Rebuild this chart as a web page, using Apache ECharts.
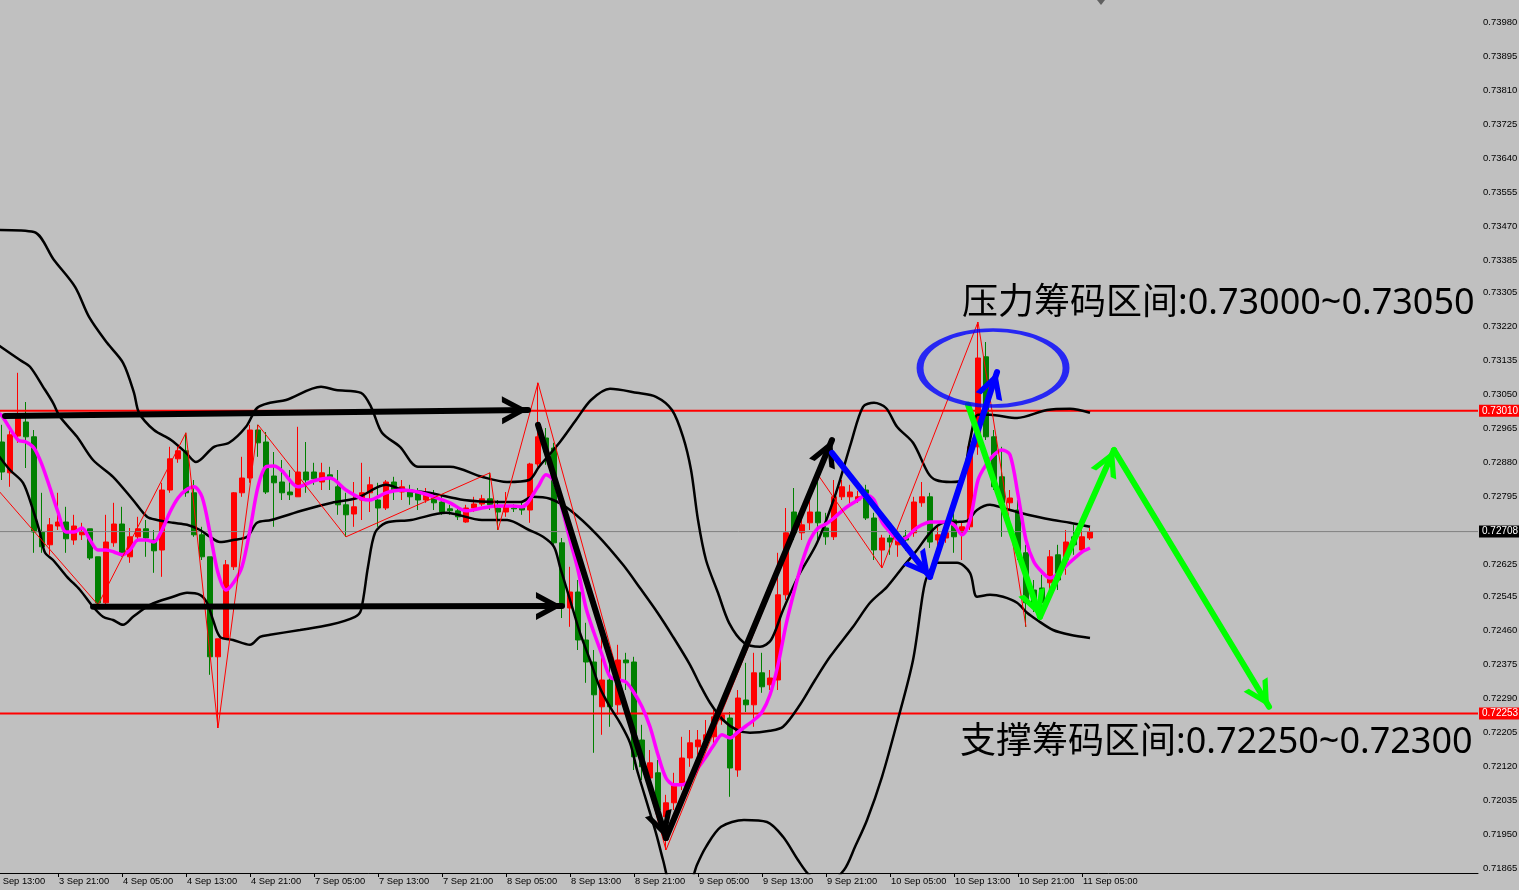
<!DOCTYPE html>
<html><head><meta charset="utf-8">
<script src="https://cdn.jsdelivr.net/npm/echarts@6/dist/echarts.min.js"></script>
<style>html,body{margin:0;padding:0;background:#c0c0c0;}#c{width:1519px;height:890px;}</style>
</head><body><div id="c"></div>
<script>
// ---- categories (hourly bars, H1) ----
const daySpans = [['3 Sep',13,23],['4 Sep',0,23],['7 Sep',0,23],['8 Sep',0,23],['9 Sep',0,23],['10 Sep',0,23],['11 Sep',0,6]];
const futureSlots = 48;

// ---- y tick labels ----
const yTickLabels = [0.73980,0.73895,0.73810,0.73725,0.73640,0.73555,0.73470,0.73385,0.73305,0.73220,0.73135,0.73050,0.72965,0.72880,0.72795,0.72625,0.72545,0.72460,0.72375,0.72290,0.72205,0.72120,0.72035,0.71950,0.71865];

// ---- OHLC (3 Sep 14:00 .. 11 Sep 06:00) ----
const openP = [0.72932,0.72855,0.72947,0.72982,0.72945,0.72707,0.72675,0.72722,0.72732,0.72687,
0.72700,0.72715,0.72645,0.72530,0.72680,0.72727,0.72645,0.72695,0.72715,0.72687,
0.72662,0.72812,0.72890,0.72910,0.72805,0.72700,0.72645,0.72395,0.72442,0.72620,
0.72805,0.72842,0.72962,0.72932,0.72847,0.72832,0.72807,0.72795,0.72857,0.72857,
0.72832,0.72850,0.72820,0.72775,0.72752,0.72787,0.72805,0.72787,0.72767,0.72832,
0.72807,0.72812,0.72805,0.72787,0.72792,0.72782,0.72765,0.72760,0.72732,0.72767,
0.72777,0.72790,0.72767,0.72757,0.72767,0.72767,0.72762,0.72877,0.72942,0.72917,
0.72680,0.72517,0.72557,0.72437,0.72382,0.72270,0.72337,0.72275,0.72387,0.72382,
0.72187,0.72092,0.72105,0.71995,0.72030,0.72075,0.72142,0.72170,0.72187,0.72195,
0.72237,0.72242,0.72112,0.72287,0.72275,0.72355,0.72325,0.72337,0.72550,0.72757,
0.72705,0.72730,0.72757,0.72717,0.72695,0.72795,0.72795,0.72787,0.72812,0.72742,
0.72662,0.72692,0.72675,0.72697,0.72705,0.72780,0.72795,0.72687,0.72692,0.72737,
0.72705,0.72720,0.72920,0.73145,0.72945,0.72845,0.72780,0.72762,0.72655,0.72562,
0.72567,0.72580,0.72650,0.72637,0.72695,0.72662,0.72692];
const closeP = [0.72857,0.72950,0.73000,0.72945,0.72707,0.72670,0.72725,0.72732,0.72690,0.72722,
0.72707,0.72642,0.72530,0.72682,0.72727,0.72655,0.72695,0.72715,0.72692,0.72660,
0.72812,0.72890,0.72910,0.72805,0.72700,0.72645,0.72395,0.72440,0.72625,0.72805,
0.72842,0.72962,0.72930,0.72807,0.72830,0.72805,0.72800,0.72857,0.72837,0.72840,
0.72855,0.72845,0.72775,0.72750,0.72770,0.72805,0.72825,0.72767,0.72832,0.72812,
0.72820,0.72795,0.72787,0.72805,0.72780,0.72757,0.72760,0.72745,0.72767,0.72777,
0.72790,0.72775,0.72757,0.72770,0.72765,0.72762,0.72877,0.72945,0.72907,0.72680,
0.72520,0.72557,0.72437,0.72382,0.72300,0.72337,0.72270,0.72387,0.72380,0.72145,
0.72120,0.72130,0.72012,0.72030,0.72075,0.72142,0.72180,0.72187,0.72200,0.72245,
0.72250,0.72117,0.72292,0.72275,0.72355,0.72320,0.72342,0.72550,0.72705,0.72705,
0.72725,0.72757,0.72730,0.72695,0.72795,0.72820,0.72807,0.72795,0.72742,0.72662,
0.72692,0.72682,0.72687,0.72687,0.72782,0.72795,0.72682,0.72700,0.72705,0.72695,
0.72720,0.72920,0.73142,0.72945,0.72820,0.72780,0.72792,0.72655,0.72530,0.72530,
0.72530,0.72645,0.72587,0.72682,0.72675,0.72695,0.72708];
const lowP = [0.72837,0.72820,0.72930,0.72867,0.72655,0.72655,0.72650,0.72712,0.72655,0.72675,
0.72687,0.72637,0.72525,0.72525,0.72670,0.72645,0.72630,0.72682,0.72645,0.72605,
0.72595,0.72805,0.72880,0.72795,0.72695,0.72637,0.72350,0.72217,0.72437,0.72612,
0.72795,0.72830,0.72895,0.72802,0.72720,0.72787,0.72787,0.72795,0.72805,0.72825,
0.72812,0.72812,0.72750,0.72695,0.72720,0.72737,0.72757,0.72720,0.72762,0.72787,
0.72787,0.72775,0.72762,0.72780,0.72762,0.72750,0.72750,0.72737,0.72730,0.72757,
0.72772,0.72762,0.72712,0.72745,0.72757,0.72750,0.72730,0.72870,0.72875,0.72667,
0.72492,0.72470,0.72412,0.72330,0.72155,0.72200,0.72220,0.72250,0.72312,0.72112,
0.72087,0.72062,0.71987,0.71912,0.72012,0.72062,0.72120,0.72150,0.72162,0.72175,
0.72225,0.72045,0.72095,0.72257,0.72220,0.72305,0.72312,0.72312,0.72537,0.72687,
0.72687,0.72712,0.72682,0.72675,0.72687,0.72787,0.72775,0.72780,0.72737,0.72637,
0.72617,0.72650,0.72645,0.72660,0.72695,0.72770,0.72667,0.72660,0.72680,0.72655,
0.72637,0.72712,0.72900,0.72937,0.72812,0.72695,0.72762,0.72637,0.72470,0.72507,
0.72512,0.72562,0.72562,0.72600,0.72650,0.72657,0.72687];
const highP = [0.72975,0.72962,0.73105,0.73032,0.72962,0.72805,0.72742,0.72805,0.72770,0.72750,
0.72730,0.72715,0.72645,0.72750,0.72780,0.72770,0.72717,0.72745,0.72737,0.72712,
0.72830,0.72920,0.72920,0.72955,0.72837,0.72720,0.72645,0.72440,0.72637,0.72807,
0.72895,0.72975,0.72975,0.72957,0.72907,0.72887,0.72862,0.72970,0.72932,0.72880,
0.72880,0.72870,0.72862,0.72805,0.72832,0.72880,0.72845,0.72830,0.72837,0.72845,
0.72837,0.72825,0.72817,0.72817,0.72812,0.72800,0.72775,0.72770,0.72775,0.72795,
0.72800,0.72855,0.72787,0.72807,0.72777,0.72780,0.72880,0.73080,0.72967,0.72930,
0.72692,0.72620,0.72587,0.72480,0.72412,0.72462,0.72412,0.72425,0.72405,0.72395,
0.72225,0.72162,0.72137,0.72050,0.72105,0.72195,0.72212,0.72212,0.72237,0.72262,
0.72275,0.72257,0.72312,0.72380,0.72405,0.72405,0.72362,0.72655,0.72767,0.72817,
0.72757,0.72787,0.72850,0.72755,0.72837,0.72837,0.72825,0.72810,0.72825,0.72755,
0.72700,0.72700,0.72710,0.72712,0.72795,0.72832,0.72805,0.72720,0.72720,0.72755,
0.72730,0.72937,0.73232,0.73182,0.72962,0.72920,0.72812,0.72787,0.72675,0.72587,
0.72600,0.72662,0.72675,0.72712,0.72725,0.72717,0.72717];

// ---- Bollinger band lines, read as [bar position, price] ----
const bbUpper = [[0.5,0.73462],[5,0.73457],[7.5,0.73387],[10.13,0.73320],[11.88,0.73245],[14.13,0.73180],[16.13,0.73130],[17.5,0.73055],[18.13,0.73005],[20,0.72962],[22.13,0.72937],[24,0.72905],[25.25,0.72882],[27.5,0.72920],[29.38,0.72930],[31.5,0.72970],[32.88,0.73017],[34.5,0.73030],[36.5,0.73037],[40.88,0.73070],[42.75,0.73062],[45.88,0.73055],[47.13,0.73020],[48.5,0.72955],[50.75,0.72920],[53,0.72870],[57,0.72870],[61,0.72845],[64.13,0.72832],[66.88,0.72837],[68.13,0.72870],[70.75,0.72932],[72.75,0.72987],[74.63,0.73037],[77,0.73065],[80.38,0.73055],[82.75,0.73045],[84.75,0.73012],[86.13,0.72945],[87.13,0.72862],[88,0.72737],[89,0.72637],[90.5,0.72555],[91.88,0.72480],[93.75,0.72430],[95.75,0.72420],[97.13,0.72437],[98.63,0.72512],[100.5,0.72595],[102.88,0.72680],[105.25,0.72805],[107.13,0.72930],[108.63,0.73020],[110,0.73030],[111.5,0.73017],[112.88,0.72970],[114.88,0.72930],[116.75,0.72855],[117.75,0.72837],[119.63,0.72832],[121,0.72837],[122,0.72937],[123,0.73000],[124.5,0.73000],[127.88,0.72992],[131.63,0.73012],[134.5,0.73015],[137,0.73005]];
const bbMiddle = [[0.5,0.73175],[3.25,0.73137],[4.5,0.73120],[6.13,0.73070],[7.38,0.73030],[8.25,0.72995],[10.38,0.72945],[12.38,0.72887],[14.88,0.72845],[17.38,0.72787],[19.13,0.72745],[20.38,0.72737],[22.38,0.72730],[24.13,0.72725],[25.75,0.72712],[27,0.72695],[28.25,0.72682],[29.88,0.72687],[31.63,0.72695],[32.88,0.72730],[34.63,0.72737],[38.75,0.72762],[42.25,0.72780],[45.38,0.72792],[49,0.72825],[51.25,0.72812],[54.38,0.72805],[58.75,0.72787],[63.25,0.72782],[65.88,0.72782],[67.25,0.72795],[69.5,0.72790],[72,0.72762],[75.38,0.72700],[78.63,0.72625],[80.75,0.72567],[82.88,0.72507],[84.88,0.72445],[87,0.72375],[88.25,0.72325],[89.5,0.72280],[91.13,0.72237],[92.88,0.72212],[94.5,0.72205],[97,0.72210],[98.63,0.72220],[100.75,0.72275],[102.63,0.72337],[104.5,0.72395],[107.38,0.72470],[109.5,0.72530],[111.63,0.72570],[113.63,0.72620],[115.38,0.72662],[117,0.72705],[118.63,0.72730],[120.38,0.72732],[121.63,0.72735],[122.88,0.72762],[124.5,0.72775],[126.13,0.72767],[128.25,0.72755],[130.38,0.72745],[132.38,0.72737],[134.5,0.72730],[137,0.72720]];
const bbLower = [[0.5,0.72900],[2,0.72862],[3.63,0.72830],[4.88,0.72762],[5.75,0.72705],[6.38,0.72655],[7.38,0.72637],[9.13,0.72595],[10.75,0.72562],[12.38,0.72520],[13.63,0.72495],[14.88,0.72487],[16.13,0.72475],[17.38,0.72495],[19.5,0.72525],[22.38,0.72545],[24.13,0.72555],[25.75,0.72550],[26.63,0.72530],[27.38,0.72487],[28.25,0.72445],[29.88,0.72437],[32,0.72425],[33.25,0.72445],[34.5,0.72450],[38.25,0.72462],[42,0.72475],[45.13,0.72495],[45.88,0.72512],[46.75,0.72620],[47.63,0.72705],[49,0.72730],[52.13,0.72737],[56.5,0.72755],[61,0.72737],[64.13,0.72737],[66.88,0.72712],[68.63,0.72695],[70,0.72670],[70.75,0.72620],[71.63,0.72562],[72.38,0.72512],[73.25,0.72455],[74.5,0.72387],[75.75,0.72317],[77,0.72270],[78.25,0.72230],[79.5,0.72180],[80.38,0.72112],[81.13,0.72062],[82,0.72005],[82.88,0.71945],[83.63,0.71887],[84.75,0.71812],[86.38,0.71800],[87.88,0.71875],[89,0.71920],[90.88,0.71970],[93.75,0.71987],[96.63,0.71982],[98.63,0.71945],[100.5,0.71887],[101.88,0.71850],[103.88,0.71825],[106.25,0.71862],[107.63,0.71920],[109.13,0.71987],[111,0.72095],[112.88,0.72230],[114.88,0.72387],[116.13,0.72555],[116.63,0.72595],[117.88,0.72630],[120.38,0.72630],[122,0.72605],[122.88,0.72545],[124.5,0.72550],[126.13,0.72545],[127.88,0.72530],[129.13,0.72505],[130.38,0.72487],[132.38,0.72462],[134.5,0.72450],[137,0.72442]];

// ---- moving average (magenta) ----
const maLine = [[0.5,0.73005],[1,0.72997],[3,0.72937],[4,0.72932],[5,0.72917],[6,0.72875],[7,0.72817],[8,0.72757],[9,0.72707],[10,0.72707],[11,0.72717],[12,0.72687],[13,0.72662],[14,0.72662],[15,0.72657],[16,0.72650],[17,0.72662],[18,0.72687],[19,0.72687],[20,0.72682],[21,0.72712],[22,0.72757],[23,0.72792],[24,0.72812],[25,0.72820],[26,0.72795],[27,0.72705],[28,0.72605],[29,0.72562],[30,0.72582],[31,0.72620],[32,0.72712],[33,0.72820],[34,0.72870],[35,0.72872],[36,0.72860],[38,0.72820],[40,0.72835],[42,0.72842],[44,0.72812],[46,0.72790],[47,0.72787],[49,0.72805],[51,0.72812],[53,0.72807],[55,0.72795],[57,0.72780],[59,0.72760],[61,0.72767],[63,0.72772],[65,0.72772],[66,0.72770],[68,0.72820],[69,0.72850],[70,0.72835],[71,0.72767],[72,0.72687],[73,0.72612],[74,0.72517],[75,0.72455],[76,0.72400],[77,0.72345],[78,0.72337],[79,0.72332],[80,0.72305],[81,0.72270],[82,0.72220],[83,0.72150],[84,0.72092],[85,0.72075],[86,0.72075],[87,0.72087],[88,0.72117],[89,0.72145],[90,0.72175],[91,0.72200],[92,0.72192],[93,0.72207],[94,0.72222],[95,0.72237],[96,0.72257],[97,0.72300],[98,0.72375],[99,0.72475],[100,0.72557],[101,0.72630],[102,0.72687],[103,0.72717],[104,0.72727],[105,0.72742],[106,0.72760],[107,0.72775],[108,0.72787],[109,0.72800],[110,0.72787],[111,0.72732],[112,0.72707],[113,0.72687],[114,0.72692],[115,0.72712],[116,0.72725],[117,0.72732],[118,0.72732],[119,0.72732],[120,0.72725],[121,0.72700],[122,0.72737],[123,0.72837],[124,0.72875],[125,0.72900],[126,0.72912],[127,0.72900],[128,0.72800],[129,0.72687],[130,0.72632],[131,0.72607],[132,0.72592],[133,0.72602],[134,0.72622],[135,0.72640],[136,0.72657],[137,0.72667]];

// ---- zigzag swing points ----
const zigzag = [[0.5,0.72812],[13,0.72525],[24,0.72955],[28,0.72217],[33,0.72975],[44,0.72695],[62,0.72855],[63,0.72712],[68,0.73080],[84,0.71912],[103,0.72850],[111,0.72617],[123,0.73232],[129,0.72470]];

// ---- levels ----
const resistanceLevel = 0.73010;
const supportLevel = 0.72253;
const lastPrice = 0.72708;

// ---- hand-drawn arrows [from, to] ----
const blackArrows = [[[1.38,0.72997],[66.75,0.73012]],[[12.38,0.72520],[71,0.72522]],[[68,0.72975],[84,0.71942]],[[84,0.71942],[104.75,0.72937]]];
const blueArrows = [[[104.75,0.72905],[117,0.72595]],[[117,0.72595],[125.38,0.73107]]];
const greenArrows = [[[121.75,0.73025],[130.75,0.72495]],[[130.75,0.72495],[140,0.72912]],[[140,0.72912],[159.38,0.72270]]];
const ellipseCenter = [124.88, 0.73117];

const resistanceText = '压力筹码区间:0.73000~0.73050';
const supportText = '支撑筹码区间:0.72250~0.72300';

// ---- build ----
const pad = n => (n < 10 ? '0' : '') + n;
const categories = [];
daySpans.forEach(([d, a, b]) => { for (let h = a; h <= b; h++) categories.push(d + ' ' + pad(h) + ':00'); });
for (let i = 0; i < futureSlots; i++) categories.push('');
const candles = ['-'];
for (let i = 0; i < openP.length; i++) candles.push([openP[i], closeP[i], lowP[i], highP[i]]);
const X_MIN = -0.5, X_MAX = categories.length - 0.5;

const showIdx = (idx, val) => idx % 8 === 0 && val !== '';
const chev = 'path://M0,0L0,0ZM52,0L52,0ZM26,26L40,52L34,52L26,37L18,52L12,52Z';
const arrowSeries = (arr, color) => ({
  type: 'lines', coordinateSystem: 'cartesian2d', xAxisIndex: 1, yAxisIndex: 0,
  symbol: ['none', chev], symbolSize: 52, silent: true, z: 20,
  lineStyle: { color: color, width: 6, opacity: 1, curveness: 0, cap: 'round' },
  data: arr.map(a => ({ coords: a }))
});
const lineSeries = (data, color, width, smooth, z) => ({
  type: 'line', xAxisIndex: 1, yAxisIndex: 0, data: data, symbol: 'none', showSymbol: false,
  smooth: smooth, silent: true, z: z, lineStyle: { color: color, width: width }, clip: true
});
const levelSeries = (level, color, width, boxColor) => Object.assign(
  lineSeries([[X_MIN, level], [X_MAX, level]], color, width, false, 4), {
  endLabel: { show: true, formatter: level.toFixed(5), distance: 1, color: '#ffffff', backgroundColor: boxColor,
    fontSize: 10, fontFamily: 'Liberation Sans', padding: [1, 4, 1, 3] }
});

const chart = echarts.init(document.getElementById('c'), null, { renderer: 'canvas' });
const option = {
  animation: false,
  backgroundColor: '#c0c0c0',
  grid: { left: -10, right: 41, top: 0, bottom: 17, containLabel: false, outerBoundsMode: 'none' },
  xAxis: [
    { type: 'category', data: categories, boundaryGap: true,
      axisLine: { show: true, lineStyle: { color: '#000', width: 1 } },
      axisTick: { show: true, interval: showIdx, alignWithLabel: true, length: 4, lineStyle: { color: '#000' } },
      axisLabel: { show: true, interval: showIdx, align: 'left', margin: 4, fontSize: 9.3, fontFamily: 'Liberation Sans', color: '#000', padding: [0, 0, 0, 1] },
      splitLine: { show: false } },
    { type: 'value', min: X_MIN, max: X_MAX, show: false, splitLine: { show: false } }
  ],
  yAxis: [{
    type: 'value', position: 'right', min: 0.718545, max: 0.74037,
    axisLine: { show: true, lineStyle: { color: '#000', width: 1 } },
    axisTick: { show: true, customValues: yTickLabels, length: 3, lineStyle: { color: '#000' } },
    axisLabel: { show: true, customValues: yTickLabels, formatter: v => v.toFixed(5), color: '#000', fontSize: 9.5, fontFamily: 'Liberation Sans', margin: 5 },
    splitLine: { show: false }
  }],
  series: [
    { type: 'candlestick', xAxisIndex: 0, yAxisIndex: 0, data: candles, barWidth: 5, silent: true, z: 2,
      itemStyle: { color: '#ff0000', color0: '#008000', borderColor: '#ff0000', borderColor0: '#008000', borderWidth: 1 } },
    levelSeries(lastPrice, '#808080', 1, '#000000'),
    levelSeries(resistanceLevel, '#ff0000', 2, '#ff0000'),
    levelSeries(supportLevel, '#ff0000', 2, '#ff0000'),
    lineSeries(bbUpper, '#000', 2.5, 0.3, 5),
    lineSeries(bbMiddle, '#000', 2.5, 0.3, 5),
    lineSeries(bbLower, '#000', 2.5, 0.3, 5),
    lineSeries(maLine, '#ff00ff', 3.5, 0.3, 6),
    lineSeries(zigzag, '#ff0000', 1, false, 7),
    arrowSeries(blackArrows, '#000000'),
    arrowSeries(blueArrows, '#0000ff'),
    arrowSeries(greenArrows, '#00ff00'),
    { type: 'scatter', xAxisIndex: 1, yAxisIndex: 0, data: [ellipseCenter], symbol: 'circle', symbolSize: [146, 76], silent: true, z: 21,
      itemStyle: { color: 'rgba(0,0,0,0)', borderColor: '#0000ff', borderWidth: 5 } }
  ],
  graphic: [
    { type: 'text', left: 962, top: 286, z: 100, silent: true,
      style: { text: resistanceText, fontSize: 36, fontFamily: '"Noto Sans", "Noto Sans CJK SC"', fill: '#000' } },
    { type: 'text', left: 960, top: 725, z: 100, silent: true,
      style: { text: supportText, fontSize: 36, fontFamily: '"Noto Sans", "Noto Sans CJK SC"', fill: '#000' } },
    { type: 'polygon', z: 100, silent: true, shape: { points: [[1097, 0], [1105, 0], [1101, 5]] }, style: { fill: '#606060' } }
  ]
};
chart.setOption(option);
</script>
</body></html>
